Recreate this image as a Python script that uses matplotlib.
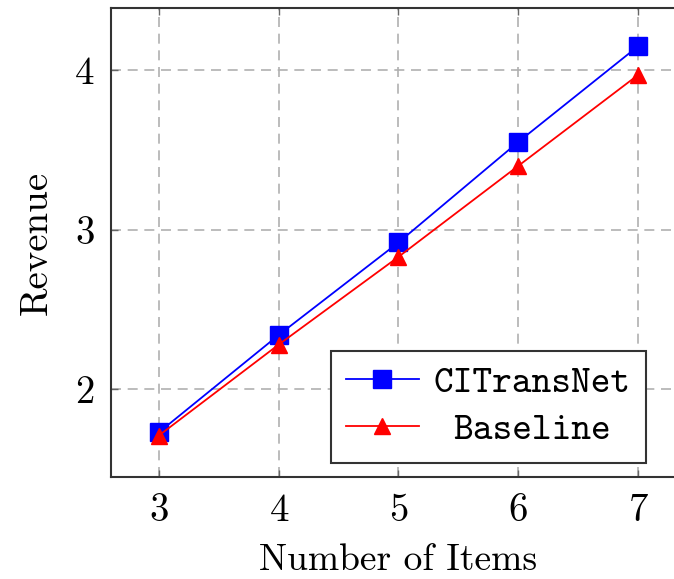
import matplotlib.pyplot as plt

plt.rcParams['font.family'] = 'cmr10'
plt.rcParams['axes.formatter.use_mathtext'] = True
plt.rcParams['font.size'] = 26

# Data
items = [3, 4, 5, 6, 7]
citransnet = [1.73, 2.34, 2.92, 3.55, 4.15]
baseline = [1.71, 2.28, 2.83, 3.40, 3.97]

fig = plt.figure(figsize=(6.74, 5.79), dpi=100)
ax = fig.add_axes([0.1647, 0.1762, 0.853, 0.810])

ax.plot(items, citransnet, color='blue', marker='s', markersize=13, linewidth=1.3,
        label='CITransNet', zorder=3)
ax.plot(items, baseline, color='red', marker='^', markersize=12, linewidth=1.3,
        label='Baseline', zorder=3)

ax.set_xlim(2.6, 7.4)
ax.set_ylim(1.45, 4.39)
ax.set_xticks(items)
ax.set_yticks([2, 3, 4])
ax.grid(True, color='#b0b0b0', linestyle=(0, (6, 4)), linewidth=1.2)
ax.tick_params(direction='in', top=True, right=True, length=5, width=1,
               color='#666666', labelsize=28, pad=12)
for s in ax.spines.values():
    s.set_linewidth(1.5)
    s.set_color('#333333')

ax.set_xlabel('Number of Items', fontsize=27, labelpad=10)
ax.set_ylabel('Revenue', fontsize=28, labelpad=14)

leg = ax.legend(loc='lower right', bbox_to_anchor=(646 / 674, 1 - 463 / 579),
                bbox_transform=fig.transFigure, prop={'family': 'cmtt10', 'size': 27},
                fancybox=False, edgecolor='#333333', framealpha=1,
                handlelength=1.95, handletextpad=0.4, borderpad=0.4,
                labelspacing=0.3, borderaxespad=0)
leg.get_frame().set_linewidth(1.5)
# centre the shorter entry like the pgfplots legend
leg.get_texts()[1].set_x(19)

plt.savefig('out.png', dpi=100)
